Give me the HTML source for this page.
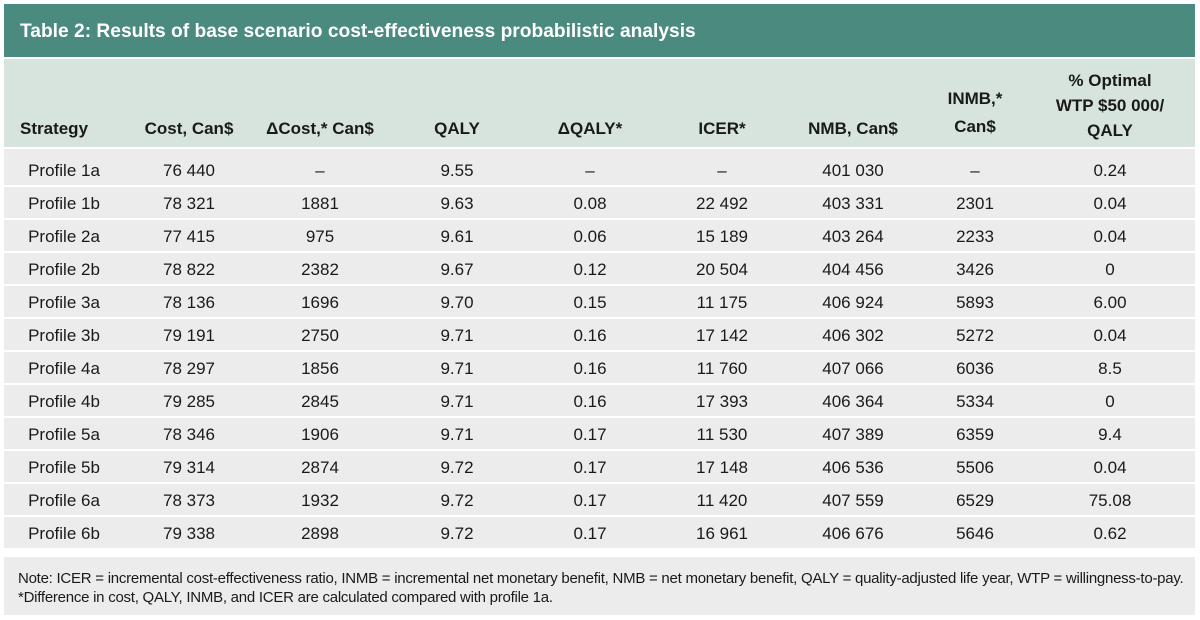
<!DOCTYPE html>
<html><head><meta charset="utf-8"><style>
body{margin:0;width:1200px;height:620px;background:#fff;font-family:"Liberation Sans",sans-serif;position:relative;overflow:hidden;color:#1a1a1a}
.abs{position:absolute}
#title{left:4px;top:4px;width:1191px;height:53px;background:#4b8a7f;color:#fff;font-weight:bold;font-size:19.2px;line-height:55px;padding-left:16px;box-sizing:border-box}
#head{left:4px;top:59px;width:1191px;height:88px;background:#d7e3dd}
.h{position:absolute;font-weight:bold;font-size:17px;text-align:center;line-height:22px;transform:translateX(-50%);white-space:nowrap}
.row{position:absolute;left:4px;width:1191px;background:#ececec}
.c{position:absolute;font-size:17px;transform:translate(-50%,-50%);white-space:nowrap}
#note{left:4px;top:557px;width:1191px;height:58px;background:#ececec;font-size:15px;line-height:19px;padding:12px 0 0 14px;box-sizing:border-box;letter-spacing:-0.25px}
</style></head><body>
<div id="title" class="abs">Table 2: Results of base scenario cost-effectiveness probabilistic analysis</div>
<div id="head" class="abs">
<div class="h" style="left:16px;top:59px;transform:none">Strategy</div>
<div class="h" style="left:185px;top:59px">Cost, Can$</div>
<div class="h" style="left:316px;top:59px">ΔCost,* Can$</div>
<div class="h" style="left:453px;top:59px">QALY</div>
<div class="h" style="left:586px;top:59px">ΔQALY*</div>
<div class="h" style="left:718px;top:59px">ICER*</div>
<div class="h" style="left:849px;top:59px">NMB, Can$</div>
<div class="h" style="left:971px;top:26px;line-height:28px">INMB,*<br>Can$</div>
<div class="h" style="left:1106px;top:9px;line-height:25px">% Optimal<br>WTP $50 000/<br>QALY</div>
</div>
<div id="rows"></div>
<div id="note" class="abs">Note: ICER = incremental cost-effectiveness ratio, INMB = incremental net monetary benefit, NMB = net monetary benefit, QALY = quality-adjusted life year, WTP = willingness-to-pay.<br>*Difference in cost, QALY, INMB, and ICER are calculated compared with profile 1a.</div>
<script>
const strategies=["Profile 1a","Profile 1b","Profile 2a","Profile 2b","Profile 3a","Profile 3b","Profile 4a","Profile 4b","Profile 5a","Profile 5b","Profile 6a","Profile 6b"];
const cost=["76 440","78 321","77 415","78 822","78 136","79 191","78 297","79 285","78 346","79 314","78 373","79 338"];
const dcost=["–","1881","975","2382","1696","2750","1856","2845","1906","2874","1932","2898"];
const qaly=["9.55","9.63","9.61","9.67","9.70","9.71","9.71","9.71","9.71","9.72","9.72","9.72"];
const dqaly=["–","0.08","0.06","0.12","0.15","0.16","0.16","0.16","0.17","0.17","0.17","0.17"];
const icer=["–","22 492","15 189","20 504","11 175","17 142","11 760","17 393","11 530","17 148","11 420","16 961"];
const nmb=["401 030","403 331","403 264","404 456","406 924","406 302","407 066","406 364","407 389","406 536","407 559","406 676"];
const inmb=["–","2301","2233","3426","5893","5272","6036","5334","6359","5506","6529","5646"];
const optimal=["0.24","0.04","0.04","0","6.00","0.04","8.5","0","9.4","0.04","75.08","0.62"];
const cols=[[strategies,64,'strategy'],[cost,189,'cost'],[dcost,320,'delta-cost'],[qaly,457,'qaly'],[dqaly,590,'delta-qaly'],[icer,722,'icer'],[nmb,853,'nmb'],[inmb,975,'inmb'],[optimal,1110,'optimal']];
const host=document.getElementById('rows');
strategies.forEach((s,i)=>{
  const top=i===0?149:187+(i-1)*33;
  const h=i===0?36:31;
  const r=document.createElement('div');
  r.className='row';
  
  
  r.style.top=top+'px';r.style.height=h+'px';
  host.appendChild(r);
  const cy=i===0?22:17;
  cols.forEach(([arr,x,n])=>{
    const c=document.createElement('div');
    c.className='c';
    
    
    c.style.left=(x-4)+'px';c.style.top=cy+'px';
    c.textContent=arr[i];
    r.appendChild(c);
  });
});
</script>
</body></html>
